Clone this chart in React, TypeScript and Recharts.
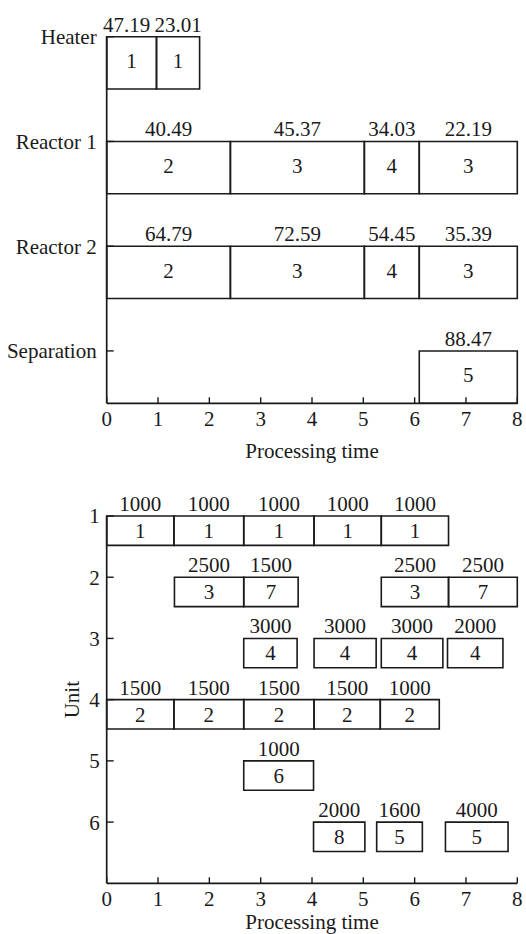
import React from 'react'
import { ComposedChart, XAxis, YAxis, ReferenceArea, Label, Scatter } from 'recharts'

const FONT = 'Liberation Serif, DejaVu Serif, serif'
const INK = '#1a1a1a'

// top chart: equipment schedule
const stages = ['Heater', 'Reactor 1', 'Reactor 2', 'Separation']
const topUnit = [0, 0, 1, 1, 1, 1, 2, 2, 2, 2, 3]
const topStart = [0, 0.97, 0, 2.41, 5.02, 6.09, 0, 2.41, 5.02, 6.09, 6.09]
const topEnd = [0.97, 1.81, 2.41, 5.02, 6.09, 8, 2.41, 5.02, 6.09, 8, 8]
const topAmount = ['47.19', '23.01', '40.49', '45.37', '34.03', '22.19', '64.79', '72.59', '54.45', '35.39', '88.47']
const topTask = [1, 1, 2, 3, 4, 3, 2, 3, 4, 3, 5]

// bottom chart: unit schedule
const units = [1, 2, 3, 4, 5, 6]
const botUnit = [1, 1, 1, 1, 1, 2, 2, 2, 2, 3, 3, 3, 3, 4, 4, 4, 4, 4, 5, 6, 6, 6]
const botStart = [0, 1.31, 2.67, 4.04, 5.35, 1.32, 2.67, 5.35, 6.66, 2.67, 4.04, 5.35, 6.64, 0, 1.31, 2.67, 4.04, 5.33, 2.67, 4.03, 5.26, 6.6]
const botEnd = [1.31, 2.67, 4.04, 5.35, 6.66, 2.67, 3.73, 6.66, 8, 3.71, 5.25, 6.55, 7.72, 1.31, 2.67, 4.04, 5.33, 6.48, 4.03, 5.03, 6.15, 7.82]
const botAmount = ['1000', '1000', '1000', '1000', '1000', '2500', '1500', '2500', '2500', '3000', '3000', '3000', '2000', '1500', '1500', '1500', '1500', '1000', '1000', '2000', '1600', '4000']
const botTask = [1, 1, 1, 1, 1, 3, 7, 3, 7, 4, 4, 4, 4, 2, 2, 2, 2, 2, 6, 8, 5, 5]

const timeTicks = [0, 1, 2, 3, 4, 5, 6, 7, 8]

const tickStyle = { fontSize: 21, fontFamily: FONT, fill: INK }

// anchor points so the chart builds its scales (drawn invisibly)
const topPoints = topUnit.map((u, i) => ({ x: topStart[i], y: 4 - u }))
const botPoints = botUnit.map((u, i) => ({ x: botStart[i], y: u }))

function SegLabel(props: any) {
  const vb = props.viewBox || props
  if (vb == null || vb.x == null) return null
  const { x, y, width, height } = vb
  const nudge = props.nudge || 0
  return (
    <g style={{ fontFamily: FONT, fontSize: 21 }} fill={INK}>
      <text x={x + width / 2 + nudge} y={y - 5} textAnchor="middle">{props.amount}</text>
      <text x={x + width / 2} y={y + height / 2 - props.lift} dy="0.35em" textAnchor="middle">{props.task}</text>
    </g>
  )
}

function UnitLabel(props: any) {
  const vb = props.viewBox
  if (!vb) return null
  const cx = vb.x + 72
  const cy = vb.y + vb.height / 2
  return (
    <text x={cx} y={cy} dy="0.35em" textAnchor="middle" transform={`rotate(-90 ${cx} ${cy})`}
      style={{ fontFamily: FONT, fontSize: 21 }} fill={INK}>Unit</text>
  )
}

const noShape = () => <g />

function TopChart() {
  return (
    <ComposedChart width={526} height={470} margin={{ top: 36.7, right: 8.7, bottom: 0, left: 0 }}>
      <XAxis type="number" dataKey="x" domain={[0, 8]} ticks={timeTicks} interval={0} allowDataOverflow
        tickSize={-6} tickMargin={14} height={66.7} tick={tickStyle}
        axisLine={{ stroke: INK, strokeWidth: 1.7 }} tickLine={{ stroke: INK, strokeWidth: 1.4 }}>
        <Label value="Processing time" position="insideBottom" offset={11.7}
          style={{ fontSize: 21, fontFamily: FONT, fill: INK }} />
      </XAxis>
      <YAxis type="number" dataKey="y" domain={[0.5, 4]} ticks={[1, 2, 3, 4]} interval={0} width={106.7} allowDataOverflow
        tickFormatter={(v: number) => stages[4 - v]} tickSize={-7} tickMargin={17} tick={tickStyle}
        axisLine={{ stroke: INK, strokeWidth: 1.7 }} tickLine={{ stroke: INK, strokeWidth: 1.4 }} />
      <Scatter data={topPoints} shape={noShape} isAnimationActive={false} />
      {topUnit.map((u, i) => (
        <ReferenceArea key={i} x1={topStart[i]} x2={topEnd[i]} y1={4 - u} y2={4 - u - 0.5}
          fill="none" stroke={INK} strokeWidth={1.6} ifOverflow="visible"
          label={<SegLabel amount={topAmount[i]} task={topTask[i]} lift={2} nudge={i === 0 ? -5 : 0} />} />
      ))}
    </ComposedChart>
  )
}

function BottomChart() {
  return (
    <ComposedChart width={526} height={490} margin={{ top: 56, right: 8.7, bottom: 0, left: 0 }}>
      <XAxis type="number" dataKey="x" domain={[0, 8]} ticks={timeTicks} interval={0} allowDataOverflow
        tickSize={-6} tickMargin={14} height={66.7} tick={tickStyle}
        axisLine={{ stroke: INK, strokeWidth: 1.7 }} tickLine={{ stroke: INK, strokeWidth: 1.4 }}>
        <Label value="Processing time" position="insideBottom" offset={20.7}
          style={{ fontSize: 21, fontFamily: FONT, fill: INK }} />
      </XAxis>
      <YAxis type="number" dataKey="y" domain={[1, 7]} reversed ticks={units} interval={0} width={106.7} allowDataOverflow
        tickSize={-7} tickMargin={14} tick={tickStyle}
        axisLine={{ stroke: INK, strokeWidth: 1.7 }} tickLine={{ stroke: INK, strokeWidth: 1.4 }}>
        <Label content={<UnitLabel />} />
      </YAxis>
      <Scatter data={botPoints} shape={noShape} isAnimationActive={false} />
      {botUnit.map((u, i) => (
        <ReferenceArea key={i} x1={botStart[i]} x2={botEnd[i]} y1={u} y2={u + 0.48}
          fill="none" stroke={INK} strokeWidth={1.6} ifOverflow="visible"
          label={<SegLabel amount={botAmount[i]} task={botTask[i]} lift={0} />} />
      ))}
    </ComposedChart>
  )
}

export default function App() {
  return (
    <div style={{ position: 'absolute', left: 0, top: 0, width: 526, height: 934, overflow: 'hidden', background: '#fff', fontFamily: FONT }}>
      <div style={{ position: 'absolute', left: 0, top: 0 }}>
        <TopChart />
      </div>
      <div style={{ position: 'absolute', left: 0, top: 460 }}>
        <BottomChart />
      </div>
    </div>
  )
}
